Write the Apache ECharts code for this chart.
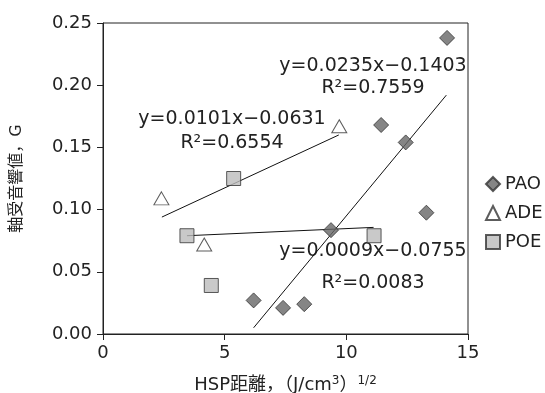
<!DOCTYPE html>
<html><head><meta charset="utf-8">
<script src="https://cdn.jsdelivr.net/npm/echarts@6/dist/echarts.min.js"></script>
<style>html,body{margin:0;padding:0;background:#fff}#c{width:545px;height:393px}</style>
</head><body><div id="c"></div>
<script>
// Data
var paoData = [[14.14,0.238],[11.43,0.168],[12.44,0.154],[13.29,0.0975],[9.37,0.0835],[6.19,0.027],[7.40,0.021],[8.27,0.024]];
var adeData = [[2.40,0.109],[9.71,0.167],[4.16,0.072]];
var poeData = [[5.37,0.125],[3.45,0.079],[4.45,0.039],[11.14,0.079]];
// trend line endpoints as drawn
var paoFit = [[6.19,0.0050],[14.11,0.192]];
var adeFit = [[2.42,0.094],[9.69,0.160]];
var poeFit = [[3.45,0.079],[11.12,0.0857]];
var xTicks = [0,5,10,15];
var yTicks = [0,0.05,0.10,0.15,0.20,0.25];
var eqTexts = ['y=0.0235x\u22120.1403','R\u00b2=0.7559','y=0.0101x\u22120.0631','R\u00b2=0.6554','y=0.0009x\u22120.0755','R\u00b2=0.0083'];

var F = 'DejaVu Sans, Noto Sans CJK JP, sans-serif';
var chart = echarts.init(document.getElementById('c'));
function eq(t, cx, cy) {
  return {type:'text', x: cx, y: cy, style:{text:t, font:'19px '+F, fill:'#222', align:'center', verticalAlign:'middle'}};
}
chart.setOption({
  animation:false,
  grid:{left:103, right:77, top:23, bottom:59, show:true, borderColor:'#222', borderWidth:1, outerBoundsMode:'none', containLabel:false},
  xAxis:{type:'value', min:0, max:15, interval:5,
    axisLine:{show:true, onZero:false, lineStyle:{color:'#222'}},
    axisTick:{show:true, length:6, lineStyle:{color:'#222'}},
    splitLine:{show:false},
    axisLabel:{color:'#222', fontSize:18, fontFamily:F, margin:10},
    name:'HSP距離，（J/cm{s|3}）{s|1/2}', nameLocation:'middle', nameGap:41,
    nameTextStyle:{color:'#222', fontSize:18, fontFamily:F, rich:{s:{fontSize:12, verticalAlign:'top', padding:[0,0,8,0], fontFamily:F, color:'#222'}}}
  },
  yAxis:{type:'value', min:0, max:0.25, interval:0.05,
    axisLine:{show:true, lineStyle:{color:'#222'}},
    axisTick:{show:true, length:6, lineStyle:{color:'#222'}},
    splitLine:{show:false},
    axisLabel:{color:'#222', fontSize:18, fontFamily:F, margin:11, formatter:function(v){return v.toFixed(2);}},
    name:'軸受音響値，G', nameLocation:'middle', nameGap:78, nameRotate:90,
    nameTextStyle:{color:'#222', fontSize:16, fontFamily:F}
  },
  legend:{orient:'vertical', left:480, top:170, itemWidth:14, itemHeight:14, itemGap:11, data:['PAO','ADE','POE'],
    textStyle:{color:'#222', fontSize:18, fontFamily:F}},
  graphic: [eq(eqTexts[0],373,66), eq(eqTexts[1],373,88), eq(eqTexts[2],232,119), eq(eqTexts[3],232,143), eq(eqTexts[4],373,251), eq(eqTexts[5],373,283)],
  series:[
    {name:'PAO fit', type:'line', data:paoFit, symbol:'none', lineStyle:{color:'#111', width:1}, z:1},
    {name:'ADE fit', type:'line', data:adeFit, symbol:'none', lineStyle:{color:'#111', width:1}, z:1},
    {name:'POE fit', type:'line', data:poeFit, symbol:'none', lineStyle:{color:'#111', width:1}, z:1},
    {name:'PAO', type:'scatter', data:paoData, symbol:'diamond', symbolSize:[15,15], itemStyle:{color:'#666', borderColor:'#333', borderWidth:1}, z:3},
    {name:'ADE', type:'scatter', data:adeData, symbol:'triangle', symbolSize:[15,13], itemStyle:{color:'#fff', borderColor:'#333', borderWidth:1}, z:3},
    {name:'POE', type:'scatter', data:poeData, symbol:'rect', symbolSize:[14,14], itemStyle:{color:'#bbb', borderColor:'#333', borderWidth:1}, z:3}
  ]
});
</script></body></html>
